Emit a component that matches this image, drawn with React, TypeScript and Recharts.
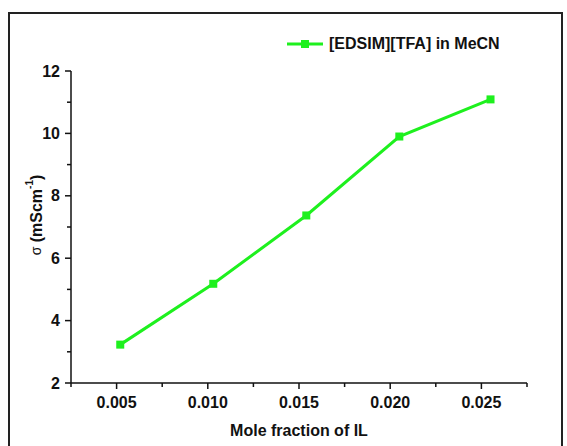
import React from 'react';
import { LineChart, Line, XAxis, YAxis, Legend } from 'recharts';

const moleFraction = [0.0052, 0.0103, 0.0154, 0.0205, 0.0255];
const conductivity = [3.23, 5.18, 7.37, 9.9, 11.09];
const seriesName = '[EDSIM][TFA] in MeCN';
const xTicks = [0.0025, 0.005, 0.0075, 0.01, 0.0125, 0.015, 0.0175, 0.02, 0.0225, 0.025, 0.0275];
const yTicks = [2, 3, 4, 5, 6, 7, 8, 9, 10, 11, 12];
const xTitle = 'Mole fraction of IL';

const data = moleFraction.map((x, i) => ({ x, y: conductivity[i] }));

const GREEN = '#1ef01e';
const FONT = '"Liberation Sans", Arial, sans-serif';

const isMajorX = (v: number) => Math.abs(v / 0.005 - Math.round(v / 0.005)) < 1e-6;
const isMajorY = (v: number) => Math.abs(v / 2 - Math.round(v / 2)) < 1e-6;

const XTick = (props: any) => {
  const { x, y, payload } = props;
  const v = payload.value as number;
  const major = isMajorX(v);
  return (
    <g>
      <line x1={x} x2={x} y1={y} y2={y + (major ? 6 : 4)} stroke="#111" strokeWidth={1.5} />
      {major && (
        <text x={x} y={y + 19} textAnchor="middle" dominantBaseline="central" fontFamily={FONT} fontWeight="bold" fontSize={16} fill="#111">
          {v.toFixed(3)}
        </text>
      )}
    </g>
  );
};

const YTick = (props: any) => {
  const { x, y, payload } = props;
  const v = payload.value as number;
  const major = isMajorY(v);
  return (
    <g>
      <line x1={x} x2={x - (major ? 6 : 4)} y1={y} y2={y} stroke="#111" strokeWidth={1.5} />
      {major && (
        <text x={x - 11} y={y} textAnchor="end" dominantBaseline="central" fontFamily={FONT} fontWeight="bold" fontSize={16} fill="#111">
          {v}
        </text>
      )}
    </g>
  );
};

const SquareDot = (props: any) => {
  const { cx, cy } = props;
  if (cx == null || cy == null) return null;
  return <rect x={cx - 4} y={cy - 4} width={8} height={8} fill={GREEN} />;
};

const LegendContent = () => (
  <div style={{ display: 'flex', alignItems: 'center', fontFamily: FONT, fontWeight: 'bold', fontSize: 16, color: '#111', whiteSpace: 'nowrap' }}>
    <svg width={40} height={20} style={{ marginRight: 4 }}>
      <line x1={2} x2={38} y1={10} y2={10} stroke={GREEN} strokeWidth={3} />
      <rect x={16} y={6} width={8} height={8} fill={GREEN} />
    </svg>
    <span>{seriesName}</span>
  </div>
);

export default function App() {
  return (
    <div style={{ position: 'absolute', left: 0, top: 0, width: 567, height: 446, background: '#fff', overflow: 'hidden' }}>
      <div style={{ position: 'absolute', left: 8, top: 12, width: 555, height: 460, border: '2px solid #222', boxSizing: 'border-box' }} />
      <div style={{ position: 'absolute', left: 0, top: 0 }}>
        <LineChart width={567} height={446} data={data} margin={{ top: 51, right: 40, left: 0, bottom: 0 }}>
          <XAxis
            dataKey="x"
            type="number"
            domain={[0.0025, 0.0275]}
            ticks={xTicks}
            interval={0}
            height={63}
            tickSize={0}
            tickMargin={0}
            tickLine={false}
            axisLine={{ stroke: '#111', strokeWidth: 1.5 }}
            tick={<XTick />}
            allowDataOverflow
            label={{
              content: (p: any) => {
                const vb = p.viewBox;
                return (
                  <text x={vb.x + vb.width / 2} y={vb.y + 47} textAnchor="middle" dominantBaseline="central" fontFamily={FONT} fontWeight="bold" fontSize={16} fill="#111">
                    {xTitle}
                  </text>
                );
              },
            }}
          />
          <YAxis
            type="number"
            domain={[2, 12]}
            ticks={yTicks}
            interval={0}
            width={71}
            tickSize={0}
            tickMargin={0}
            tickLine={false}
            axisLine={{ stroke: '#111', strokeWidth: 1.5 }}
            tick={<YTick />}
            allowDataOverflow
            label={{
              content: (p: any) => {
                const vb = p.viewBox;
                const cx = 36;
                const cy = vb.y + vb.height / 2 - 12;
                return (
                  <text x={cx} y={cy} transform={`rotate(-90, ${cx}, ${cy})`} textAnchor="middle" dominantBaseline="central" fontFamily={FONT} fill="#111">
                    <tspan fontSize={14}>σ</tspan>
                    <tspan fontSize={16} fontWeight="bold"> (mScm</tspan>
                    <tspan fontSize={10} fontWeight="bold" dy={-7}>-1</tspan>
                    <tspan fontSize={16} fontWeight="bold" dy={7}>)</tspan>
                  </text>
                );
              },
            }}
          />
          <Legend
            verticalAlign="top"
            content={<LegendContent />}
            wrapperStyle={{ position: 'absolute', top: 34, left: 285, width: 'auto' }}
          />
          <Line
            type="linear"
            dataKey="y"
            name={seriesName}
            stroke={GREEN}
            strokeWidth={3}
            dot={<SquareDot />}
            activeDot={false}
            isAnimationActive={false}
          />
        </LineChart>
      </div>
    </div>
  );
}
